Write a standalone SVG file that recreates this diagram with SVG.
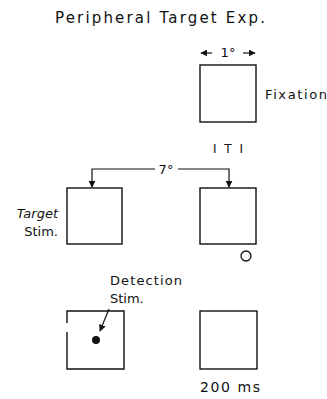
<svg xmlns="http://www.w3.org/2000/svg" width="327" height="399" viewBox="0 0 327 399">
<style>
text{font-family:"DejaVu Sans","Liberation Sans",sans-serif;fill:#111}
.box{fill:none;stroke:#111;stroke-width:1.4}
.ln{fill:none;stroke:#111;stroke-width:1.2}
</style>
<defs>
<marker id="ah" viewBox="0 0 10 10" refX="9" refY="5" markerWidth="7" markerHeight="7" orient="auto-start-reverse" markerUnits="userSpaceOnUse">
<path d="M0,0 L10,5 L0,10 Z" fill="#111"/>
</marker>
</defs>
<rect width="327" height="399" fill="#fff"/>
<text x="55" y="23" font-size="15" textLength="210" lengthAdjust="spacing">Peripheral Target Exp.</text>
<g id="fixation">
<rect class="box" x="200" y="65" width="56" height="57"/>
<text x="265" y="99" font-size="13" textLength="62" lengthAdjust="spacing">Fixation</text>
<line class="ln" x1="212" y1="53" x2="201" y2="53" marker-end="url(#ah)"/>
<text x="228" y="57" font-size="13" text-anchor="middle">1°</text>
<line class="ln" x1="243" y1="53" x2="255" y2="53" marker-end="url(#ah)"/>
</g>
<text x="228" y="153" font-size="12" text-anchor="middle" textLength="30" lengthAdjust="spacing" font-family="Liberation Serif,serif">I T I</text>
<g id="target">
<rect class="box" x="67" y="188" width="55" height="56"/>
<text x="58" y="218" font-size="13" text-anchor="end" font-style="italic">Target</text>
<text x="58" y="236" font-size="13" text-anchor="end">Stim.</text>
</g>
<g id="iti">
<rect class="box" x="200" y="188" width="56" height="56"/>
<circle cx="246" cy="256" r="5" fill="none" stroke="#111" stroke-width="1.3"/>
</g>
<g id="detection">
<path class="box" d="M67,323 V311 H124 V369 H67 V332"/>
<circle cx="96" cy="340" r="4" fill="#111"/>
<text x="110" y="285" font-size="13" textLength="72" lengthAdjust="spacing">Detection</text>
<text x="110" y="303" font-size="13">Stim.</text>
</g>
<g id="blank">
<rect class="box" x="200" y="311" width="57" height="58"/>
<text x="200" y="392" font-size="14" textLength="60" lengthAdjust="spacing">200 ms</text>
</g>
<g id="connectors">
<path class="ln" d="M155,169 H92 V187" marker-end="url(#ah)"/>
<path class="ln" d="M178,169 H229 V187" marker-end="url(#ah)"/>
<text x="166" y="174" font-size="13" text-anchor="middle">7°</text>
<line class="ln" x1="109" y1="309" x2="100" y2="331" marker-end="url(#ah)"/>
</g>
</svg>
